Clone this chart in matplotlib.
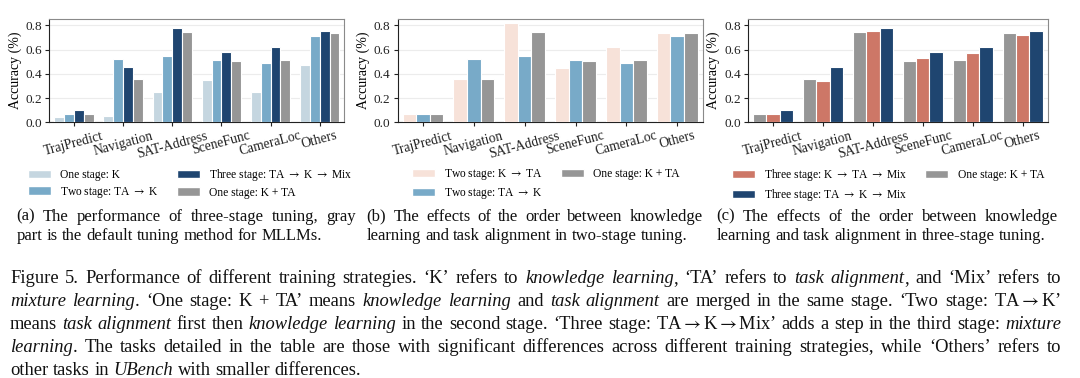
import numpy as np
import matplotlib
matplotlib.use('Agg')
import matplotlib.pyplot as plt
from matplotlib.patches import Patch

plt.rcParams['font.family'] = ['Liberation Serif', 'DejaVu Serif']
plt.rcParams['mathtext.fontset'] = 'stix'

tasks = ['TrajPredict', 'Navigation', 'SAT-Address', 'SceneFunc', 'CameraLoc', 'Others']

# accuracy values
one_k = [0.04, 0.055, 0.25, 0.35, 0.25, 0.47]
two_ta_k = [0.07, 0.52, 0.55, 0.51, 0.485, 0.71]
three_ta_k_mix = [0.10, 0.46, 0.78, 0.58, 0.62, 0.75]
one_k_ta = [0.07, 0.36, 0.745, 0.505, 0.51, 0.735]
two_k_ta = [0.07, 0.36, 0.815, 0.45, 0.62, 0.735]
three_k_ta_mix = [0.065, 0.34, 0.75, 0.53, 0.57, 0.72]

ARR = r'$\rightarrow$'
lab_one_k = 'One stage: K'
lab_two_ta_k = 'Two stage: TA ' + ARR + ' K'
lab_three_ta_k_mix = 'Three stage: TA ' + ARR + ' K ' + ARR + ' Mix'
lab_one_k_ta = 'One stage: K + TA'
lab_two_k_ta = 'Two stage: K ' + ARR + ' TA'
lab_three_k_ta_mix = 'Three stage: K ' + ARR + ' TA ' + ARR + ' Mix'

c_one_k = '#c5d6e0'
c_two_ta_k = '#78aac8'
c_three_ta_k_mix = '#1f4570'
c_one_k_ta = '#969696'
c_two_k_ta = '#f7e2d9'
c_three_k_ta_mix = '#cd7767'

subcaps = [
    ['(a) The performance of three-stage tuning, gray',
     'part is the default tuning method for MLLMs.'],
    ['(b) The effects of the order between knowledge',
     'learning and task alignment in two-stage tuning.'],
    ['(c) The effects of the order between knowledge',
     'learning and task alignment in three-stage tuning.'],
]

caption = [
    "Figure 5. Performance of different training strategies. ‘K’ refers to *knowledge learning*, ‘TA’ refers to *task alignment*, and ‘Mix’ refers to",
    "*mixture learning*. ‘One stage: K + TA’ means *knowledge learning* and *task alignment* are merged in the same stage. ‘Two stage: TA" + ARR + "K’",
    "means *task alignment* first then *knowledge learning* in the second stage. ‘Three stage: TA" + ARR + "K" + ARR + "Mix’ adds a step in the third stage: *mixture*",
    "*learning*. The tasks detailed in the table are those with significant differences across different training strategies, while ‘Others’ refers to",
    "other tasks in *UBench* with smaller differences.",
]

W, H = 1080, 378
fig = plt.figure(figsize=(W / 100, H / 100), dpi=100)


def px_axes(x0, x1, y0, y1):
    return fig.add_axes([x0 / W, 1 - y1 / H, (x1 - x0) / W, (y1 - y0) / H])


def bar_panel(ax, series, colors, labels, legend_order, leg_x):
    n = len(series)
    w = 0.8 / n
    x = np.arange(len(tasks))
    for i, (vals, col) in enumerate(zip(series, colors)):
        ax.bar(x + (i - (n - 1) / 2) * w, vals, w, color=col,
               edgecolor='white', linewidth=0.8, zorder=3)
    ax.set_xlim(-0.5, len(tasks) - 0.5)
    ax.set_ylim(0, 0.852)
    ax.set_yticks([0, 0.2, 0.4, 0.6, 0.8])
    ax.set_yticklabels(['0.0', '0.2', '0.4', '0.6', '0.8'], fontsize=9.5)
    ax.set_xticks(x)
    ax.set_xticklabels(tasks, rotation=15, fontsize=9.8)
    ax.tick_params(length=3, width=0.8, pad=2, colors='#222222')
    ax.set_ylabel('Accuracy (%)', fontsize=10, labelpad=3)
    ax.yaxis.grid(True, color='#ececec', linewidth=0.8, zorder=0)
    ax.set_axisbelow(True)
    for side in ['left', 'bottom']:
        ax.spines[side].set_color('#222222')
    for side in ['top', 'right']:
        ax.spines[side].set_color('#8a8a8a')
    handles = [Patch(facecolor=colors[k], edgecolor='white', label=labels[k])
               for k in legend_order]
    ax.legend(handles=handles, ncol=2, frameon=False, fontsize=8.3,
              loc='upper left', borderaxespad=0, labelspacing=0.3,
              columnspacing=1.55,
              bbox_to_anchor=(leg_x / W, 1 - 162.5 / H),
              bbox_transform=fig.transFigure)


ax_a = px_axes(49.3, 344.3, 19, 122.3)
bar_panel(ax_a, [one_k, two_ta_k, three_ta_k_mix, one_k_ta],
          [c_one_k, c_two_ta_k, c_three_ta_k_mix, c_one_k_ta],
          [lab_one_k, lab_two_ta_k, lab_three_ta_k_mix, lab_one_k_ta],
          [0, 1, 2, 3], 23.5)

ax_b = px_axes(397.5, 702.7, 19, 122.3)
bar_panel(ax_b, [two_k_ta, two_ta_k, one_k_ta],
          [c_two_k_ta, c_two_ta_k, c_one_k_ta],
          [lab_two_k_ta, lab_two_ta_k, lab_one_k_ta],
          [0, 1, 2], 407)

ax_c = px_axes(748, 1047.7, 19, 122.3)
bar_panel(ax_c, [one_k_ta, three_k_ta_mix, three_ta_k_mix],
          [c_one_k_ta, c_three_k_ta_mix, c_three_ta_k_mix],
          [lab_one_k_ta, lab_three_k_ta_mix, lab_three_ta_k_mix],
          [1, 2, 0], 727)

renderer = fig.canvas.get_renderer()


def parse_words(line):
    words = []
    italic = False
    for raw in line.split(' '):
        segs = []
        parts = raw.split('*')
        for j, p in enumerate(parts):
            if j > 0:
                italic = not italic
            if p:
                segs.append((p, italic))
        words.append(segs)
    return words


def measure(s, size, italic=False):
    t = fig.text(0, 0, s, fontsize=size, style='italic' if italic else 'normal')
    w = t.get_window_extent(renderer).width
    t.remove()
    return w


def space_width(size):
    return measure('a a', size) - measure('aa', size)


def natural_width(line, size):
    words = parse_words(line)
    tot = sum(measure(s, size, it) for segs in words for s, it in segs)
    return tot + space_width(size) * (len(words) - 1)


def draw_par(lines, x0, x1, baselines, size, justify_last=False):
    space = space_width(size)
    for li, (line, yb) in enumerate(zip(lines, baselines)):
        words = parse_words(line)
        objs = []
        widths = []
        for segs in words:
            wt = []
            for s, it in segs:
                t = fig.text(0, 1 - yb / H, s, fontsize=size, va='baseline',
                             ha='left', style='italic' if it else 'normal',
                             color='#111111')
                wt.append((t, t.get_window_extent(renderer).width))
            objs.append(wt)
            widths.append(sum(w for _, w in wt))
        last = li == len(lines) - 1
        if last and not justify_last:
            gap = space
        else:
            gap = (x1 - x0 - sum(widths)) / max(len(words) - 1, 1)
        x = x0
        for wt in objs:
            for t, w in wt:
                t.set_x(x / W)
                x += w
            x += gap


draw_par(subcaps[0], 16.7, 355.5, [220.8, 239.8], 12)
draw_par(subcaps[1], 366.7, 702.7, [220.8, 239.8], 12)
draw_par(subcaps[2], 716.7, 1058, [220.8, 239.8], 12)

# caption is set larger than the sub-captions; pick the size that makes the
# widest justified line fit the text block
cap_size = 12 * (1061 - 10) / max(natural_width(l, 12) for l in caption[:-1]) * 0.99
draw_par(caption, 10, 1061, [283.3, 306.3, 329.2, 352.0, 374.8], cap_size)

fig.savefig('out.png', dpi=100)
